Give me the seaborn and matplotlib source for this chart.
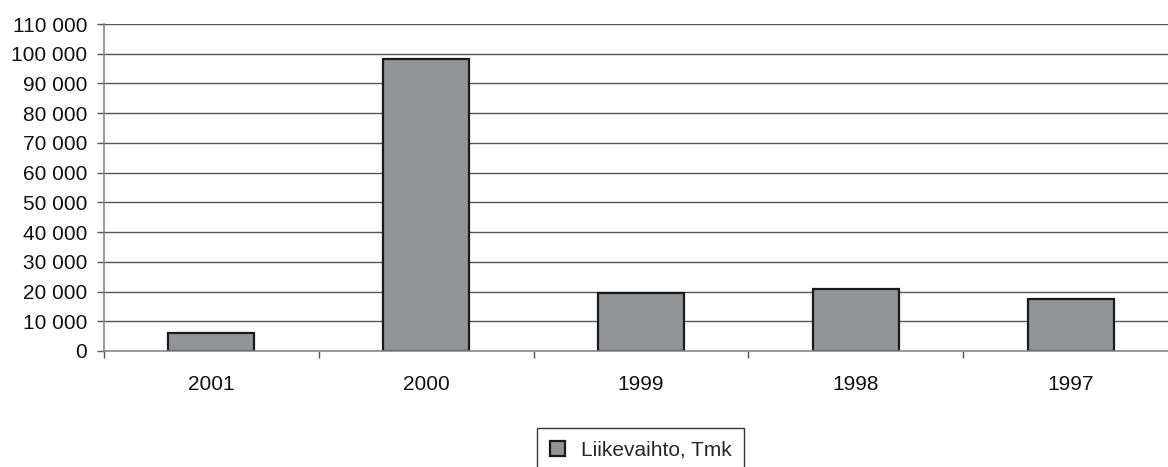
import matplotlib
matplotlib.use("Agg")
import matplotlib.pyplot as plt
from matplotlib.ticker import FuncFormatter, FixedLocator
import seaborn as sns

years = ["2001", "2000", "1999", "1998", "1997"]
revenue = [6100, 98300, 19400, 20800, 17600]
series_label = "Liikevaihto, Tmk"

sns.set_style("white")
plt.rcParams["font.family"] = ["Liberation Sans", "DejaVu Sans"]

fig = plt.figure(figsize=(11.68, 4.67), dpi=100)
ax = fig.add_axes([104 / 1168, 116 / 467, 1074 / 1168, 327 / 467])

sns.barplot(x=years, y=revenue, order=years, color="#939498", saturation=1,
            edgecolor="#1a1a1a", linewidth=1.6, width=0.4, label=series_label, ax=ax)
if ax.get_legend() is not None:
    ax.get_legend().remove()

ax.set_ylim(0, 110000)
ax.set_xlim(-0.5, 4.5)
ax.set_yticks(range(0, 110001, 10000))
ax.yaxis.set_major_formatter(FuncFormatter(lambda v, _: f"{v:,.0f}".replace(",", " ")))
ax.yaxis.grid(True, color="#555555", linewidth=1)
ax.set_axisbelow(True)
ax.set_xlabel("")
ax.set_ylabel("")

for s in ["top", "right"]:
    ax.spines[s].set_visible(False)
for s in ["left", "bottom"]:
    ax.spines[s].set_color("#888888")
    ax.spines[s].set_linewidth(1.2)

ax.tick_params(axis="y", which="major", direction="out", length=5, width=1,
               color="#555555", pad=7, labelsize=15, labelcolor="#111111", left=True)
ax.tick_params(axis="x", which="major", length=0, pad=17, labelsize=15, labelcolor="#111111")
ax.xaxis.set_minor_locator(FixedLocator([-0.5, 0.5, 1.5, 2.5, 3.5, 4.5]))
ax.tick_params(axis="x", which="minor", direction="out", length=5, width=1,
               color="#555555", bottom=True)

handles, labels = ax.get_legend_handles_labels()
leg = fig.legend(handles[:1], labels[:1], loc="upper center",
                 bbox_to_anchor=(641 / 1168, 1 - 418 / 467),
                 fontsize=15, frameon=True, fancybox=False, framealpha=1,
                 edgecolor="#333333", handlelength=0.7, handleheight=0.7,
                 handletextpad=0.8, borderpad=0.6)
leg.get_frame().set_linewidth(1)

fig.savefig("out.png", dpi=100)
